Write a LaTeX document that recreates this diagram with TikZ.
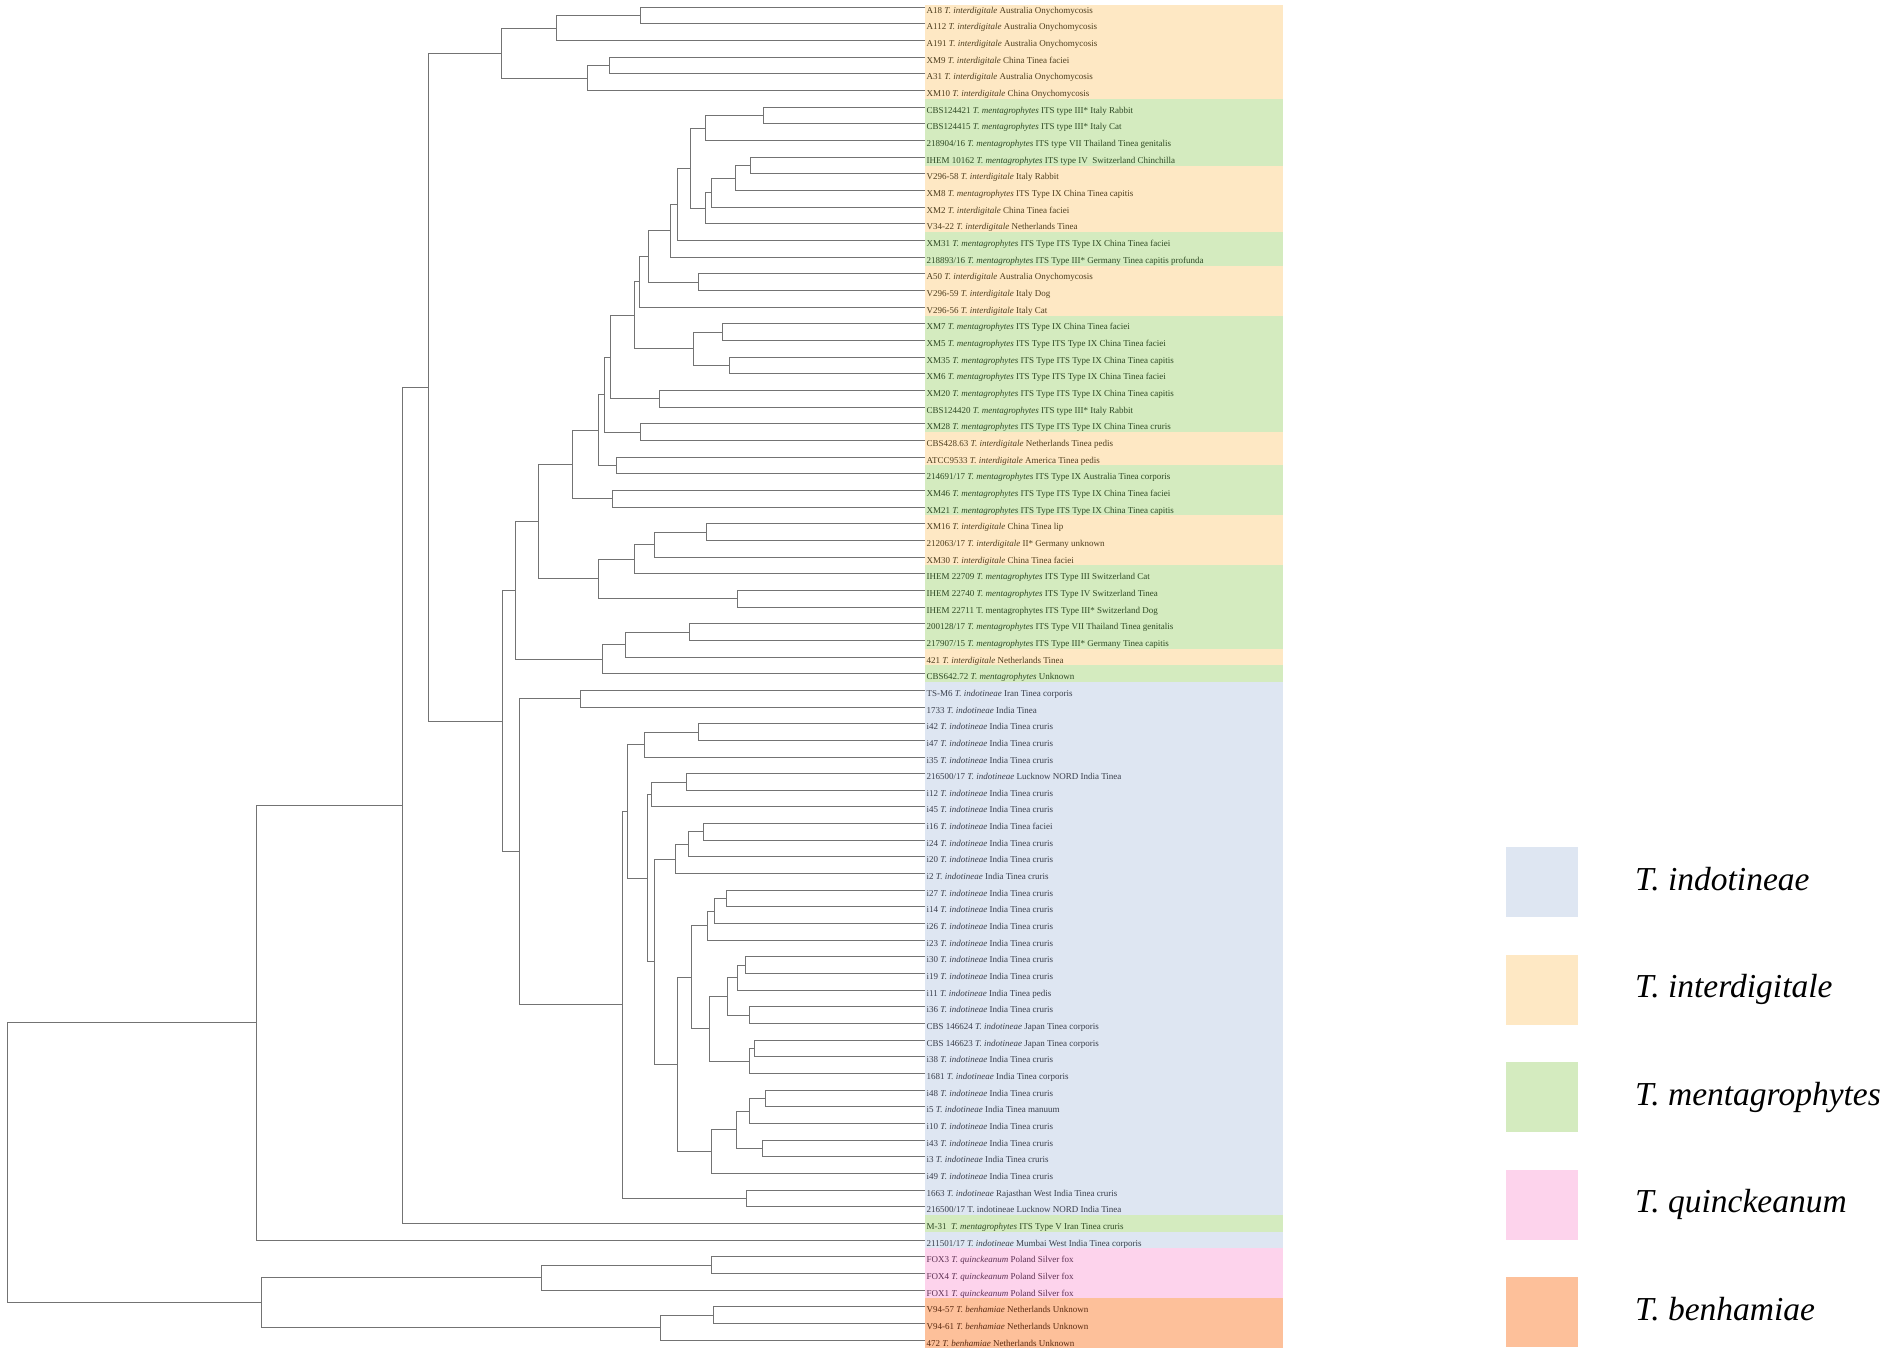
\documentclass[tikz,border=0pt]{standalone}
\usepackage{fontspec}
\setmainfont{Liberation Serif}
\usetikzlibrary{calc}
\definecolor{indo}{HTML}{DEE6F2}
\definecolor{inter}{HTML}{FEE8C4}
\definecolor{menta}{HTML}{D4EBBF}
\definecolor{quin}{HTML}{FDD3EC}
\definecolor{benh}{HTML}{FDC09A}
\definecolor{indotxt}{HTML}{3A3F4C}
\definecolor{intertxt}{HTML}{4E3E1E}
\definecolor{mentatxt}{HTML}{2F4A24}
\definecolor{quintxt}{HTML}{5C2F52}
\definecolor{benhtxt}{HTML}{5A2A10}
\def\species#1{\textit{T. #1}}
\def\leaf(#1)[#2]#3{\coordinate (l#1) at (925,{7.3+(#1-1)*16.66});
	\node[leaftext, text=#2txt] (t#1) at (926.5,{13.3+(#1-1)*16.66}) {#3};}
\def\band[#1](#2)(#3){\fill[#1] (925,{7.3+(#2-1.5)*16.66}) rectangle (1283,{7.3+(#3-0.5)*16.66});}
\def\clade(#1)(#2)(#3,#4){\path ($(#3)!.5!(#4)$) coordinate (#1m);
	\path (#2,0) coordinate (#1x);
	\coordinate (#1) at (#1x |- #1m);
	\draw[branch] (#3) -| (#1);
	\draw[branch] (#4) -| (#1);}

\begin{document}
\begin{tikzpicture}[x=1pt, y=-1pt,
		branch/.style={draw=black!55, line width=1pt},
		leaftext/.style={anchor=base west, inner sep=0pt, font=\fontsize{9}{10}\selectfont},
		legendtext/.style={anchor=base west, inner sep=0pt, font=\fontsize{33.5}{36}\selectfont}]
		%%%%% START %%%%%
		\useasboundingbox (0,0) rectangle (1901,1363);
		
		\fill[inter] (925,5) rectangle (1283,{7.3+5.5*16.66});
		\band[menta](7)(10)
		\band[inter](11)(14)
		\band[menta](15)(16)
		\band[inter](17)(19)
		\band[menta](20)(26)
		\band[inter](27)(28)
		\band[menta](29)(31)
		\band[inter](32)(34)
		\band[menta](35)(39)
		\band[inter](40)(40)
		\band[menta](41)(41)
		\band[indo](42)(73)
		\band[menta](74)(74)
		\band[indo](75)(75)
		\band[quin](76)(78)
		\band[benh](79)(81)
		
		\leaf(1)[inter]{A18 \species{interdigitale} Australia Onychomycosis}
		\leaf(2)[inter]{A112 \species{interdigitale} Australia Onychomycosis}
		\leaf(3)[inter]{A191 \species{interdigitale} Australia Onychomycosis}
		\leaf(4)[inter]{XM9 \species{interdigitale} China Tinea faciei}
		\leaf(5)[inter]{A31 \species{interdigitale} Australia Onychomycosis}
		\leaf(6)[inter]{XM10 \species{interdigitale} China Onychomycosis}
		\leaf(7)[menta]{CBS124421 \species{mentagrophytes} ITS type III* Italy Rabbit}
		\leaf(8)[menta]{CBS124415 \species{mentagrophytes} ITS type III* Italy Cat}
		\leaf(9)[menta]{218904/16 \species{mentagrophytes} ITS type VII Thailand Tinea genitalis}
		\leaf(10)[menta]{IHEM 10162 \species{mentagrophytes} ITS type IV\ \ Switzerland Chinchilla}
		\leaf(11)[inter]{V296-58 \species{interdigitale} Italy Rabbit}
		\leaf(12)[inter]{XM8 \species{mentagrophytes} ITS Type IX China Tinea capitis}
		\leaf(13)[inter]{XM2 \species{interdigitale} China Tinea faciei}
		\leaf(14)[inter]{V34-22 \species{interdigitale} Netherlands Tinea}
		\leaf(15)[menta]{XM31 \species{mentagrophytes} ITS Type ITS Type IX China Tinea faciei}
		\leaf(16)[menta]{218893/16 \species{mentagrophytes} ITS Type III* Germany Tinea capitis profunda}
		\leaf(17)[inter]{A50 \species{interdigitale} Australia Onychomycosis}
		\leaf(18)[inter]{V296-59 \species{interdigitale} Italy Dog}
		\leaf(19)[inter]{V296-56 \species{interdigitale} Italy Cat}
		\leaf(20)[menta]{XM7 \species{mentagrophytes} ITS Type IX China Tinea faciei}
		\leaf(21)[menta]{XM5 \species{mentagrophytes} ITS Type ITS Type IX China Tinea faciei}
		\leaf(22)[menta]{XM35 \species{mentagrophytes} ITS Type ITS Type IX China Tinea capitis}
		\leaf(23)[menta]{XM6 \species{mentagrophytes} ITS Type ITS Type IX China Tinea faciei}
		\leaf(24)[menta]{XM20 \species{mentagrophytes} ITS Type ITS Type IX China Tinea capitis}
		\leaf(25)[menta]{CBS124420 \species{mentagrophytes} ITS type III* Italy Rabbit}
		\leaf(26)[menta]{XM28 \species{mentagrophytes} ITS Type ITS Type IX China Tinea cruris}
		\leaf(27)[inter]{CBS428.63 \species{interdigitale} Netherlands Tinea pedis}
		\leaf(28)[inter]{ATCC9533 \species{interdigitale} America Tinea pedis}
		\leaf(29)[menta]{214691/17 \species{mentagrophytes} ITS Type IX Australia Tinea corporis}
		\leaf(30)[menta]{XM46 \species{mentagrophytes} ITS Type ITS Type IX China Tinea faciei}
		\leaf(31)[menta]{XM21 \species{mentagrophytes} ITS Type ITS Type IX China Tinea capitis}
		\leaf(32)[inter]{XM16 \species{interdigitale} China Tinea lip}
		\leaf(33)[inter]{212063/17 \species{interdigitale} II* Germany unknown}
		\leaf(34)[inter]{XM30 \species{interdigitale} China Tinea faciei}
		\leaf(35)[menta]{IHEM 22709 \species{mentagrophytes} ITS Type III Switzerland Cat}
		\leaf(36)[menta]{IHEM 22740 \species{mentagrophytes} ITS Type IV Switzerland Tinea}
		\leaf(37)[menta]{IHEM 22711 T. mentagrophytes ITS Type III* Switzerland Dog}
		\leaf(38)[menta]{200128/17 \species{mentagrophytes} ITS Type VII Thailand Tinea genitalis}
		\leaf(39)[menta]{217907/15 \species{mentagrophytes} ITS Type III* Germany Tinea capitis}
		\leaf(40)[inter]{421 \species{interdigitale} Netherlands Tinea}
		\leaf(41)[menta]{CBS642.72 \species{mentagrophytes} Unknown}
		\leaf(42)[indo]{TS-M6 \species{indotineae} Iran Tinea corporis}
		\leaf(43)[indo]{1733 \species{indotineae} India Tinea}
		\leaf(44)[indo]{i42 \species{indotineae} India Tinea cruris}
		\leaf(45)[indo]{i47 \species{indotineae} India Tinea cruris}
		\leaf(46)[indo]{i35 \species{indotineae} India Tinea cruris}
		\leaf(47)[indo]{216500/17 \species{indotineae} Lucknow NORD India Tinea}
		\leaf(48)[indo]{i12 \species{indotineae} India Tinea cruris}
		\leaf(49)[indo]{i45 \species{indotineae} India Tinea cruris}
		\leaf(50)[indo]{i16 \species{indotineae} India Tinea faciei}
		\leaf(51)[indo]{i24 \species{indotineae} India Tinea cruris}
		\leaf(52)[indo]{i20 \species{indotineae} India Tinea cruris}
		\leaf(53)[indo]{i2 \species{indotineae} India Tinea cruris}
		\leaf(54)[indo]{i27 \species{indotineae} India Tinea cruris}
		\leaf(55)[indo]{i14 \species{indotineae} India Tinea cruris}
		\leaf(56)[indo]{i26 \species{indotineae} India Tinea cruris}
		\leaf(57)[indo]{i23 \species{indotineae} India Tinea cruris}
		\leaf(58)[indo]{i30 \species{indotineae} India Tinea cruris}
		\leaf(59)[indo]{i19 \species{indotineae} India Tinea cruris}
		\leaf(60)[indo]{i11 \species{indotineae} India Tinea pedis}
		\leaf(61)[indo]{i36 \species{indotineae} India Tinea cruris}
		\leaf(62)[indo]{CBS 146624 \species{indotineae} Japan Tinea corporis}
		\leaf(63)[indo]{CBS 146623 \species{indotineae} Japan Tinea corporis}
		\leaf(64)[indo]{i38 \species{indotineae} India Tinea cruris}
		\leaf(65)[indo]{1681 \species{indotineae} India Tinea corporis}
		\leaf(66)[indo]{i48 \species{indotineae} India Tinea cruris}
		\leaf(67)[indo]{i5 \species{indotineae} India Tinea manuum}
		\leaf(68)[indo]{i10 \species{indotineae} India Tinea cruris}
		\leaf(69)[indo]{i43 \species{indotineae} India Tinea cruris}
		\leaf(70)[indo]{i3 \species{indotineae} India Tinea cruris}
		\leaf(71)[indo]{i49 \species{indotineae} India Tinea cruris}
		\leaf(72)[indo]{1663 \species{indotineae} Rajasthan West India Tinea cruris}
		\leaf(73)[indo]{216500/17 T. indotineae Lucknow NORD India Tinea}
		\leaf(74)[menta]{M-31\ \ \species{mentagrophytes} ITS Type V Iran Tinea cruris}
		\leaf(75)[indo]{211501/17 \species{indotineae} Mumbai West India Tinea corporis}
		\leaf(76)[quin]{FOX3 \species{quinckeanum} Poland Silver fox}
		\leaf(77)[quin]{FOX4 \species{quinckeanum} Poland Silver fox}
		\leaf(78)[quin]{FOX1 \species{quinckeanum} Poland Silver fox}
		\leaf(79)[benh]{V94-57 \species{benhamiae} Netherlands Unknown}
		\leaf(80)[benh]{V94-61 \species{benhamiae} Netherlands Unknown}
		\leaf(81)[benh]{472 \species{benhamiae} Netherlands Unknown}
		
		% interdigitale, top
		\clade(a1)(640.3)(l1,l2)
		\clade(a2)(556.4)(a1,l3)
		\clade(a3)(609.7)(l4,l5)
		\clade(a4)(587.3)(a3,l6)
		\clade(a5)(501.7)(a2,a4)
		
		% interdigitale / mentagrophytes
		\clade(b1)(763.7)(l7,l8)
		\clade(b2)(705.5)(b1,l9)
		\clade(b3)(750)(l10,l11)
		\clade(b4)(735.3)(b3,l12)
		\clade(b5)(711.8)(b4,l13)
		\clade(b6)(705.5)(b5,l14)
		\clade(b7)(690.4)(b2,b6)
		\clade(b8)(677.1)(b7,l15)
		\clade(b9)(670.8)(b8,l16)
		\clade(b10)(698.5)(l17,l18)
		\clade(b11)(648.7)(b9,b10)
		\clade(b12)(639.2)(b11,l19)
		\clade(b13)(722)(l20,l21)
		\clade(b14)(729)(l22,l23)
		\clade(b15)(693.2)(b13,b14)
		\clade(b16)(634.6)(b12,b15)
		\clade(b17)(659.6)(l24,l25)
		\clade(b18)(610.8)(b16,b17)
		\clade(b19)(640.6)(l26,l27)
		\clade(b20)(604.5)(b18,b19)
		\clade(b21)(616)(l28,l29)
		\clade(b22)(598.5)(b20,b21)
		\clade(b23)(612.2)(l30,l31)
		\clade(b24)(572.9)(b22,b23)
		\clade(b25)(706.2)(l32,l33)
		\clade(b26)(654.3)(b25,l34)
		\clade(b27)(634.6)(b26,l35)
		\clade(b28)(737.8)(l36,l37)
		\clade(b29)(598.5)(b27,b28)
		\clade(b30)(538.2)(b24,b29)
		\clade(b31)(689.7)(l38,l39)
		\clade(b32)(625.2)(b31,l40)
		\clade(b33)(602)(b32,l41)
		\clade(b34)(515)(b30,b33)
		
		% indotineae
		\clade(c1)(580.3)(l42,l43)
		\clade(c2)(698.8)(l44,l45)
		\clade(c3)(644.8)(c2,l46)
		\clade(c4)(686.9)(l47,l48)
		\clade(c5)(651.8)(c4,l49)
		\clade(c6)(703)(l50,l51)
		\clade(c7)(688)(c6,l52)
		\clade(c8)(675)(c7,l53)
		\clade(c9)(726.9)(l54,l55)
		\clade(c10)(714.3)(c9,l56)
		\clade(c11)(707.6)(c10,l57)
		\clade(c12)(745.5)(l58,l59)
		\clade(c13)(737)(c12,l60)
		\clade(c14)(749)(l61,l62)
		\clade(c15)(727.6)(c13,c14)
		\clade(c16)(754.6)(l63,l64)
		\clade(c17)(749)(c16,l65)
		\clade(c18)(709.7)(c15,c17)
		\clade(c19)(691.1)(c11,c18)
		\clade(c20)(765.1)(l66,l67)
		\clade(c21)(749.7)(c20,l68)
		\clade(c22)(762.2)(l69,l70)
		\clade(c23)(736.7)(c21,c22)
		\clade(c24)(711.2)(c23,l71)
		\clade(c25)(677)(c19,c24)
		\clade(c26)(654.3)(c8,c25)
		\clade(c27)(647.3)(c5,c26)
		\clade(c28)(627.3)(c3,c27)
		\clade(c29)(746.7)(l72,l73)
		\clade(c30)(622)(c28,c29)
		\clade(c31)(519.6)(c1,c30)
		
		% backbone
		\clade(d1)(502)(b34,c31)
		\clade(d2)(428)(a5,d1)
		\clade(d3)(402.8)(d2,l74)
		\clade(d4)(256.3)(d3,l75)
		
		% quinckeanum / benhamiae
		\clade(e1)(711.7)(l76,l77)
		\clade(e2)(541.5)(e1,l78)
		\clade(e3)(713.5)(l79,l80)
		\clade(e4)(660.1)(e3,l81)
		\clade(e5)(261)(e2,e4)
		\clade(root)(7)(d4,e5)
		
		% legend
		\foreach \col/\name [count=\k] in {indo/indotineae, inter/interdigitale, menta/mentagrophytes, quin/quinckeanum, benh/benhamiae}{
			\fill[\col] (1506,{847+(\k-1)*107.5}) rectangle ++(72,70);
			\node[legendtext] (key\k) at (1635,{890+(\k-1)*107.5}) {\species{\name}};
		}
		%%%%% END %%%%%
\end{tikzpicture}
\end{document}
